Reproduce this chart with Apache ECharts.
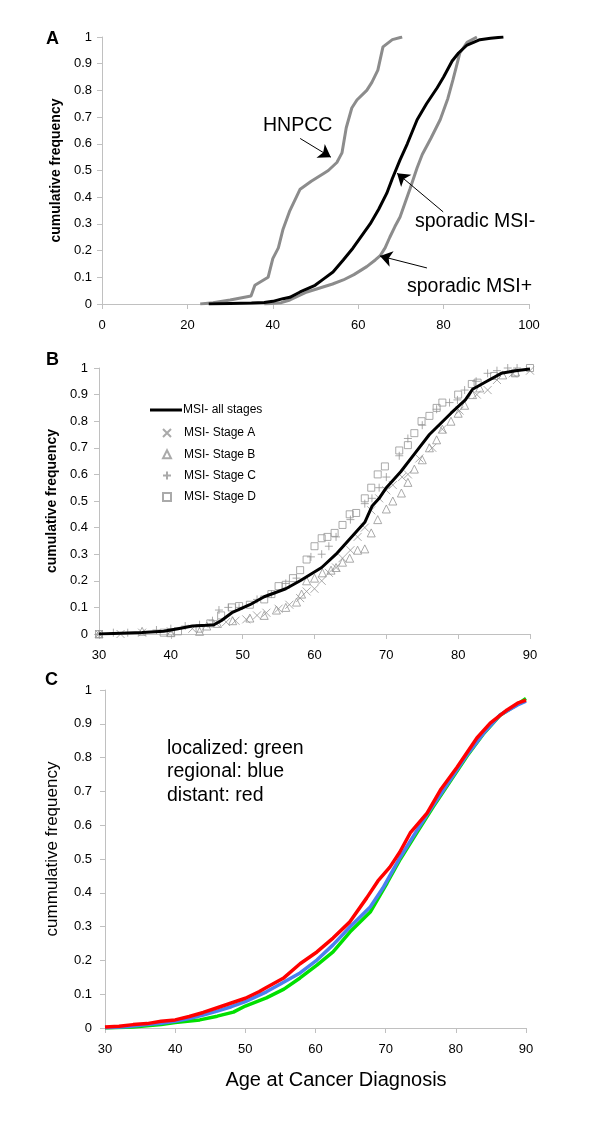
<!DOCTYPE html>
<html><head><meta charset="utf-8">
<script src="https://cdn.jsdelivr.net/npm/echarts@6/dist/echarts.min.js"></script>
<style>html,body{margin:0;padding:0;background:#fff}#c{width:600px;height:1140px}</style>
</head><body><div id="c"></div>
<script>
// ---------- Panel A ----------
const hnpcc = [[23,0],[26,0.005],[30,0.015],[34.9,0.03],[35.8,0.07],[38.9,0.1],[40,0.17],[41.3,0.21],[42.4,0.28],[44,0.35],[46.4,0.43],[49,0.46],[52,0.49],[53,0.5],[55,0.53],[56.2,0.566],[57.2,0.66],[58.5,0.734],[59.7,0.764],[62,0.8],[63.2,0.83],[64.6,0.876],[65.8,0.963],[68,0.99],[70.3,1.0]];
const sporadicMsiNeg = [[25,0],[30,0.002],[35,0.004],[38,0.006],[40,0.01],[42.4,0.02],[44,0.025],[46.4,0.045],[49.9,0.07],[52,0.095],[54.1,0.12],[56.5,0.165],[58.8,0.21],[60.8,0.255],[62.8,0.30],[64.8,0.355],[66.7,0.415],[68,0.47],[69.8,0.54],[71.5,0.6],[73.8,0.69],[76,0.75],[78.5,0.81],[80,0.85],[82,0.91],[83.5,0.94],[85.5,0.97],[88.5,0.99],[91,0.995],[94,1.0]];
const sporadicMsiPos = [[38,0],[42,0.005],[44,0.015],[46,0.03],[48,0.045],[51,0.06],[54,0.075],[56.5,0.09],[59,0.11],[62,0.14],[64,0.165],[65.1,0.18],[66.3,0.21],[67.4,0.25],[68.6,0.29],[69.8,0.326],[71,0.38],[72.1,0.43],[73.8,0.51],[75,0.56],[77,0.62],[79.2,0.69],[81,0.77],[82.2,0.84],[83,0.89],[83.8,0.94],[85.5,0.98],[87.8,1.0]];
const arrowsA = [[[46.4,0.62],[53.6,0.55]],[[79.9,0.345],[69.1,0.49]],[[76.1,0.135],[65.1,0.18]]];
const xTicksA = {min:0,max:100,interval:20};

// ---------- Panel B ----------
const msiAllStages = [[30,0],[33,0.003],[36,0.006],[39,0.01],[41,0.02],[43,0.03],[45,0.033],[46,0.035],[47,0.05],[48.5,0.08],[51,0.11],[53,0.14],[56,0.17],[58,0.2],[61,0.25],[63,0.3],[65,0.36],[67,0.42],[68,0.48],[69,0.51],[70,0.55],[72,0.61],[74,0.68],[76,0.75],[79,0.83],[81,0.88],[82,0.92],[84,0.95],[86,0.98],[88,0.99],[90,0.996]];
const stageA = [[30,0],[33,0],[36,0.005],[40,0.01],[43,0.02],[46.3,0.04],[47.7,0.045],[49,0.05],[50.5,0.055],[52,0.07],[53.3,0.08],[55,0.095],[56.5,0.11],[58,0.135],[58.9,0.16],[60,0.17],[61,0.2],[62,0.23],[63,0.25],[63.9,0.285],[65,0.315],[66,0.365],[67,0.4],[67.9,0.465],[69,0.51],[70,0.54],[70.9,0.56],[72.2,0.59],[73,0.6],[74.6,0.66],[76.4,0.70],[77.8,0.77],[80.2,0.84],[82.6,0.9],[84.1,0.917],[85.4,0.955],[87.6,0.98],[90,0.99]];
const stageB = [[30,0],[36,0.01],[40,0.005],[44,0.01],[45,0.03],[46.5,0.04],[48.6,0.05],[51,0.06],[53,0.07],[54.7,0.09],[56,0.1],[57.5,0.12],[58.2,0.15],[58.9,0.2],[60,0.21],[61.1,0.23],[62.3,0.24],[63,0.25],[63.9,0.27],[64.9,0.285],[66,0.315],[67,0.32],[67.9,0.38],[68.8,0.43],[70,0.47],[70.9,0.5],[72.1,0.53],[73,0.57],[73.9,0.62],[75,0.655],[76,0.70],[77,0.73],[77.8,0.77],[79,0.80],[80,0.83],[80.9,0.86],[82,0.9],[83,0.925],[86.2,0.974],[88,0.985]];
const stageC = [[30,0],[32,0.005],[34,0.005],[38,0.015],[40,0.02],[42,0.03],[44,0.035],[45.8,0.05],[46.7,0.09],[48,0.1],[49.5,0.1],[52,0.13],[54,0.15],[56,0.19],[57.5,0.21],[59.5,0.29],[61,0.3],[62,0.33],[63,0.365],[65,0.43],[67,0.49],[68,0.51],[69,0.55],[70,0.59],[71.8,0.67],[73,0.735],[75,0.785],[77,0.845],[78.8,0.87],[79.9,0.88],[80.9,0.917],[82.5,0.95],[84.1,0.98],[85.4,0.99],[86.9,1.0],[88.2,1.0]];
const stageD = [[30,0],[39,0.005],[40,0.005],[41,0.01],[44,0.02],[45.5,0.04],[47,0.07],[48.5,0.1],[49.5,0.105],[51,0.11],[53,0.13],[54,0.15],[55,0.18],[56,0.185],[57,0.21],[58,0.24],[58.9,0.28],[60,0.33],[61,0.36],[61.8,0.365],[62.8,0.38],[63.9,0.41],[64.9,0.45],[65.8,0.455],[67,0.51],[67.9,0.55],[68.8,0.6],[69.8,0.63],[71.8,0.69],[73,0.71],[73.9,0.755],[74.9,0.8],[76,0.82],[77,0.85],[77.8,0.87],[80,0.9],[81.9,0.94],[82.7,0.945],[85,0.97],[87.9,0.98],[90,1.0]];
const lineLegendB = ['MSI- all stages'];
const markerLegendB = ['MSI- Stage A','MSI- Stage B','MSI- Stage C','MSI- Stage D'];

// ---------- Panel C ----------
const localized = [[30,0],[34,0.003],[38,0.01],[40,0.016],[43.5,0.024],[46,0.035],[48.3,0.047],[50,0.065],[53,0.089],[55.5,0.115],[57.8,0.148],[60.2,0.186],[62.5,0.225],[64.9,0.284],[67.8,0.343],[70.2,0.429],[72.1,0.5],[74.5,0.58],[76.8,0.655],[79.2,0.73],[81.6,0.805],[84,0.872],[86.3,0.925],[88.8,0.958],[90,0.975]];
const regional = [[30,0.001],[33,0.004],[36,0.01],[38,0.014],[40,0.02],[42,0.028],[44,0.038],[46,0.05],[48,0.063],[50,0.078],[53,0.107],[55,0.13],[57.8,0.163],[60.2,0.201],[62.5,0.246],[64.9,0.299],[67.8,0.358],[69.6,0.414],[70.3,0.44],[72.1,0.506],[74.5,0.586],[76.8,0.66],[79.2,0.734],[81.6,0.808],[84,0.873],[86.3,0.926],[88.8,0.956],[90,0.967]];
const distant = [[30,0.003],[32,0.005],[34,0.01],[36,0.013],[38,0.02],[40,0.024],[42,0.034],[44,0.046],[46,0.06],[48,0.074],[50,0.088],[52,0.108],[53,0.12],[55.4,0.147],[57.8,0.19],[60.2,0.225],[62.5,0.266],[64.9,0.314],[67.3,0.385],[68.9,0.435],[70.6,0.476],[72,0.52],[73.5,0.577],[75.9,0.636],[77.8,0.704],[80.2,0.772],[83,0.858],[84.9,0.902],[87.3,0.941],[88.9,0.962],[90,0.97]];
const xTicksBC = {min:30,max:90,interval:10};
const yTicks = {min:0,max:1,interval:0.1};

const FONT = '"Liberation Sans", Arial, sans-serif';
const axisGray = '#c0c0c0';
const markGray = '#959595';

function xAx(grid, t, labelMargin, extra){
  return Object.assign({type:'value', gridIndex:grid, min:t.min, max:t.max, interval:t.interval,
    axisLine:{show:true, lineStyle:{color:axisGray,width:1}}, axisTick:{show:true, length:5, lineStyle:{color:axisGray}},
    splitLine:{show:false}, axisLabel:{color:'#000', fontSize:13, fontFamily:FONT, margin:labelMargin}}, extra||{});
}
function yAx(grid, labelMargin, name, nameStyle, gap){
  return {type:'value', gridIndex:grid, min:yTicks.min, max:yTicks.max, interval:yTicks.interval,
    axisLine:{show:true, lineStyle:{color:axisGray,width:1}}, axisTick:{show:true, length:5, lineStyle:{color:axisGray}},
    splitLine:{show:false},
    axisLabel:{color:'#000', fontSize:13, fontFamily:FONT, margin:labelMargin, formatter:v=>String(+v.toFixed(1))},
    name:name, nameLocation:'middle', nameGap:gap, nameRotate:90,
    nameTextStyle:Object.assign({color:'#000', fontFamily:FONT}, nameStyle)};
}
const crossSym = 'path://M0,0L10,10M0,10L10,0';
const plusSym = 'path://M5,0L5,10M0,5L10,5';
function scat(name, data, symbol, size){
  return {name:name, type:'scatter', xAxisIndex:1, yAxisIndex:1, data:data, symbol:symbol, symbolSize:size,
    itemStyle:{color:'rgba(0,0,0,0)', borderColor:markGray, borderWidth:1}, z:2};
}
function line(data, color, width, xi, extra){
  return Object.assign({type:'line', xAxisIndex:xi, yAxisIndex:xi, data:data, symbol:'none', showSymbol:false,
    lineStyle:{color:color, width:width}, itemStyle:{color:color}}, extra||{});
}

const chart = echarts.init(document.getElementById('c'), null, {renderer:'canvas'});
chart.setOption({
  animation:false,
  backgroundColor:'#fff',
  textStyle:{fontFamily:FONT},
  grid:[
    {left:102, right:71, top:37, height:267},
    {left:99, right:70, top:368, height:266},
    {left:105, right:74, top:690, height:338}
  ],
  xAxis:[
    xAx(0, xTicksA, 15),
    xAx(1, xTicksBC, 15),
    xAx(2, xTicksBC, 15, {name:'Age at Cancer Diagnosis', nameLocation:'middle', nameGap:42,
      nameTextStyle:{color:'#000', fontSize:20, fontFamily:FONT, padding:[0,0,0,41]}})
  ],
  yAxis:[
    yAx(0, 10, 'cumulative frequency', {fontSize:14, fontWeight:'bold'}, 35),
    yAx(1, 11, 'cumulative frequency', {fontSize:14, fontWeight:'bold'}, 30),
    yAx(2, 13, 'cummulative frequency', {fontSize:17, padding:[0,0,0,20]}, 44)
  ],
  legend:[
    {show:true, orient:'vertical', left:150, top:404, padding:0, itemWidth:32, itemHeight:3,
     data:lineLegendB.map(n=>({name:n, icon:'rect'})),
     textStyle:{fontSize:12, color:'#000', fontFamily:FONT, padding:[0,0,0,-4]}},
    {show:true, orient:'vertical', left:162, top:427, padding:0, itemWidth:8, itemHeight:8, itemGap:9.3,
     data:markerLegendB,
     textStyle:{fontSize:12, color:'#000', fontFamily:FONT, padding:[0,0,0,8]}}
  ],
  series:[
    line(hnpcc, '#8c8c8c', 3, 0, {markLine:{silent:true, symbol:['none','arrow'], symbolSize:12,
      label:{show:false}, lineStyle:{color:'#000', width:1, type:'solid'},
      data: arrowsA.map(a=>[{coord:a[0]},{coord:a[1]}])}}),
    line(sporadicMsiPos, '#8c8c8c', 3, 0),
    line(sporadicMsiNeg, '#000', 3, 0),
    scat('MSI- Stage A', stageA, crossSym, 8),
    scat('MSI- Stage B', stageB, 'triangle', 8),
    scat('MSI- Stage C', stageC, plusSym, 8),
    scat('MSI- Stage D', stageD, 'rect', 7),
    line(msiAllStages, '#000', 3, 1, {name:'MSI- all stages', z:3}),
    line(localized, '#00e000', 3.5, 2),
    line(regional, '#4a7ff0', 3.5, 2),
    line(distant, '#ff0000', 3.5, 2)
  ],
  graphic:[
    {type:'text', left:46, top:30, style:{text:'A', font:'bold 18px '+FONT, fill:'#000'}},
    {type:'text', left:46, top:351, style:{text:'B', font:'bold 18px '+FONT, fill:'#000'}},
    {type:'text', left:45, top:671, style:{text:'C', font:'bold 18px '+FONT, fill:'#000'}},
    {type:'text', left:263, top:116, style:{text:'HNPCC', font:'19.5px '+FONT, fill:'#000'}},
    {type:'text', left:415, top:212, style:{text:'sporadic MSI-', font:'19.5px '+FONT, fill:'#000'}},
    {type:'text', left:407, top:277, style:{text:'sporadic MSI+', font:'19.5px '+FONT, fill:'#000'}},
    {type:'text', left:167, top:739, style:{text:'localized: green', font:'19.5px '+FONT, fill:'#000'}},
    {type:'text', left:167, top:762, style:{text:'regional: blue', font:'19.5px '+FONT, fill:'#000'}},
    {type:'text', left:167, top:786, style:{text:'distant: red', font:'19.5px '+FONT, fill:'#000'}}
  ]
});
</script></body></html>
